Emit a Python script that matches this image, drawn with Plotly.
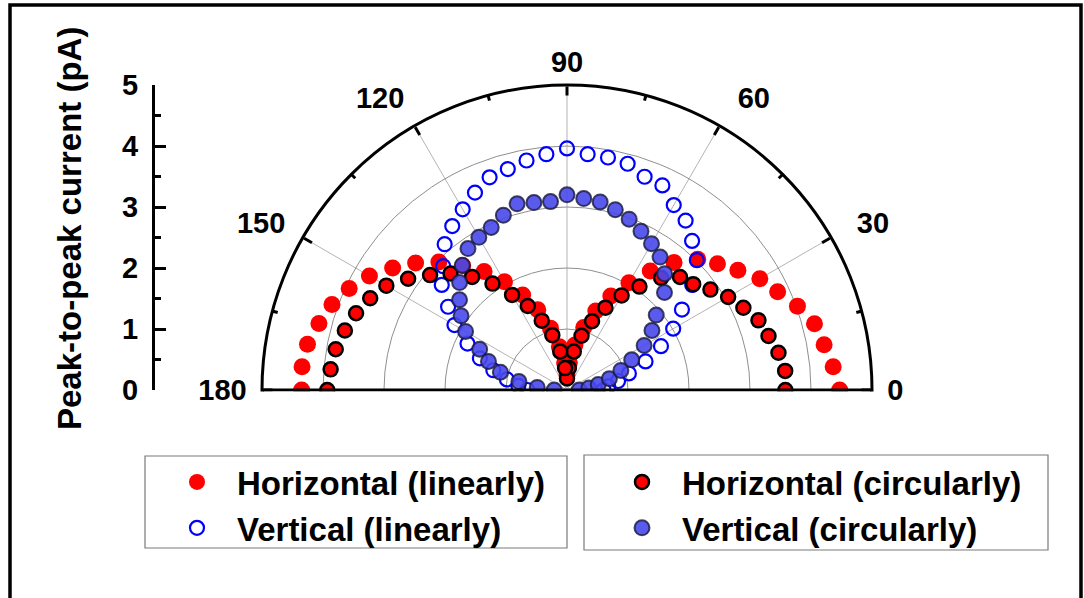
import plotly.graph_objects as go

# Polarization angle (degrees) and peak-to-peak current (pA) for each configuration
theta = list(range(0, 181, 5))

horizontal_linear = [4.47, 4.38, 4.28, 4.20, 4.02, 3.81, 3.65, 3.42, 3.22, 3.03,
                     2.73, 2.38, 2.03, 1.70, 1.38, 1.06, 0.75, 0.45, 0.25, 0.45,
                     0.72, 1.05, 1.40, 1.72, 2.05, 2.37, 2.66, 2.97, 3.24, 3.49,
                     3.74, 3.94, 4.10, 4.21, 4.32, 4.36, 4.35]

vertical_linear = [0.60, 0.68, 0.85, 1.05, 1.37, 1.70, 2.01, 2.30, 2.68, 3.01,
                   3.19, 3.39, 3.50, 3.70, 3.72, 3.84, 3.87, 3.88, 3.96, 3.88,
                   3.82, 3.75, 3.71, 3.57, 3.42, 3.28, 3.12, 2.87, 2.68, 2.38,
                   2.13, 1.80, 1.52, 1.25, 1.00, 0.80, 0.65]

horizontal_circular = [3.58, 3.59, 3.52, 3.42, 3.34, 3.19, 3.05, 2.87, 2.70, 2.62,
                       2.40, 2.07, 1.79, 1.49, 1.20, 0.92, 0.64, 0.36, 0.19, 0.36,
                       0.64, 0.93, 1.21, 1.52, 1.80, 2.13, 2.42, 2.70, 2.93, 3.18,
                       3.42, 3.56, 3.68, 3.77, 3.85, 3.89, 3.93]

vertical_circular = [0.20, 0.36, 0.52, 0.72, 0.94, 1.17, 1.46, 1.70, 1.91, 2.26,
                     2.49, 2.66, 2.77, 2.87, 2.98, 3.06, 3.13, 3.15, 3.20, 3.10,
                     3.12, 3.16, 3.05, 2.94, 2.89, 2.83, 2.67, 2.49, 2.30, 2.12,
                     1.92, 1.58, 1.37, 1.13, 0.80, 0.49, 0.21]

angle_major = [0, 30, 60, 90, 120, 150, 180]
angle_major_text = ["\u00a00", "", "", "90", "", "", "180\u00a0"]
angle_grid = [30, 60, 90, 120, 150]
angle_grid_text = ["\u00a030", "\u00a060", "", "120", "150"]
angle_minor = [15, 45, 75, 105, 135, 165]
radius_grid = [1, 2, 3, 4]
r_max = 5

W, H = 1084, 598
FONT = "Liberation Sans, Arial, Helvetica, sans-serif"


def fx(px):
    return px / W


def fy(py):
    return 1 - py / H


# half-disc geometry in pixels
cx, cy, R = 567, 390, 305
polar_dom = dict(x=[fx(cx - R), fx(cx + R)], y=[fy(cy), fy(cy - R)])

tick_font = dict(family=FONT, size=29, color="black", weight="bold")
text_font = dict(family=FONT, size=33, color="black", weight="bold")
no_radial = dict(range=[0, r_max], showgrid=False, showline=False,
                 showticklabels=False, ticks="")

fig = go.Figure()

# linear polarization: bottom polar layer, on top of the grid
fig.add_trace(go.Scatterpolar(
    r=horizontal_linear, theta=theta, mode="markers", name="Horizontal (linearly)",
    marker=dict(symbol="circle", size=17, color="#ff0000", line=dict(width=0)),
    subplot="polar", legend="legend", legendgroup="a", hoverinfo="skip"))
fig.add_trace(go.Scatterpolar(
    r=vertical_linear, theta=theta, mode="markers", name="Vertical (linearly)",
    marker=dict(symbol="circle-open", size=14, color="#0000ff", line=dict(width=2.2)),
    subplot="polar", legend="legend", legendgroup="b", hoverinfo="skip"))

# circular polarization: upper polar layers
fig.add_trace(go.Scatterpolar(
    r=horizontal_circular, theta=theta, mode="markers", name="Horizontal (circularly)",
    marker=dict(symbol="circle", size=14, color="#ff0000", line=dict(width=2.5, color="#000000")),
    subplot="polar2", legend="legend2", legendgroup="c", hoverinfo="skip"))
fig.add_trace(go.Scatterpolar(
    r=vertical_circular, theta=theta, mode="markers", name="Vertical (circularly)",
    marker=dict(symbol="circle", size=15, color="rgba(72,72,235,0.9)",
                line=dict(width=2, color="rgba(25,25,60,0.8)")),
    subplot="polar3", legend="legend2", legendgroup="d", hoverinfo="skip"))

# carrier for the linear current scale on the left
fig.add_trace(go.Scatter(x=[None], y=[None], showlegend=False, hoverinfo="skip"))

fig.update_layout(
    width=W, height=H,
    margin=dict(l=0, r=0, t=0, b=0, autoexpand=False),
    paper_bgcolor="white", plot_bgcolor="rgba(0,0,0,0)",
    showlegend=True,
    # grid circles, spokes and the oblique angle labels
    polar=dict(
        domain=polar_dom, sector=[0, 180], bgcolor="rgba(0,0,0,0)",
        radialaxis=dict(range=[0, r_max], tickvals=radius_grid, showgrid=True,
                        gridcolor="#8f8f8f", gridwidth=1, showline=False,
                        showticklabels=False, ticks=""),
        angularaxis=dict(tickmode="array", tickvals=angle_grid, ticktext=angle_grid_text,
                         showgrid=True, gridcolor="#b4b4b4", gridwidth=1, showline=False,
                         ticks="outside", ticklen=14, tickcolor="rgba(0,0,0,0)",
                         tickfont=tick_font, direction="counterclockwise", rotation=0),
    ),
    # minor ticks on the outer arc
    polar2=dict(
        domain=polar_dom, sector=[0, 180], bgcolor="rgba(0,0,0,0)",
        radialaxis=no_radial,
        angularaxis=dict(tickmode="array", tickvals=angle_minor, showticklabels=False,
                         showgrid=False, showline=False,
                         ticks="inside", ticklen=5, tickwidth=2.5, tickcolor="black",
                         direction="counterclockwise", rotation=0),
    ),
    # outer arc with major ticks and the 0 / 90 / 180 labels
    polar3=dict(
        domain=polar_dom, sector=[0, 180], bgcolor="rgba(0,0,0,0)",
        radialaxis=no_radial,
        angularaxis=dict(tickmode="array", tickvals=angle_major, ticktext=angle_major_text,
                         showgrid=False, showline=True, linecolor="black", linewidth=3,
                         ticks="inside", ticklen=9, tickwidth=2.5, tickcolor="black",
                         tickfont=tick_font, direction="counterclockwise", rotation=0),
    ),
    xaxis=dict(domain=[fx(155), 0.95], visible=False, range=[0, 1], fixedrange=True),
    yaxis=dict(domain=[fy(cy), fy(cy - R)], range=[0, r_max], anchor="x", side="left",
               showline=True, linecolor="black", linewidth=3, mirror=False,
               ticks="inside", ticklen=11, tickwidth=2.5, tickcolor="black",
               tickmode="linear", tick0=0, dtick=1,
               minor=dict(ticks="inside", ticklen=6, tickwidth=2.5, tickcolor="black",
                          dtick=0.5, tick0=0, showgrid=False),
               showgrid=False, zeroline=False, tickfont=tick_font,
               ticklabelstandoff=8, fixedrange=True, automargin=False),
    legend=dict(x=fx(157), y=fy(454), xanchor="left", yanchor="top",
                bgcolor="rgba(0,0,0,0)", borderwidth=0, itemwidth=70,
                tracegroupgap=0, itemsizing="trace", font=text_font),
    legend2=dict(x=fx(602), y=fy(454), xanchor="left", yanchor="top",
                 bgcolor="rgba(0,0,0,0)", borderwidth=0, itemwidth=70,
                 tracegroupgap=0, itemsizing="trace", font=text_font),
    annotations=[dict(text="Peak-to-peak current (pA)", textangle=-90,
                      x=fx(69), y=fy(229), xref="paper", yref="paper",
                      xanchor="center", yanchor="middle", showarrow=False,
                      font=text_font)],
    shapes=[
        # markers sitting on the 0-180 baseline are cut off below it
        dict(type="rect", xref="paper", yref="paper", layer="above",
             x0=fx(cx - R + 2), x1=fx(cx + R - 2), y0=fy(450), y1=fy(391.6),
             fillcolor="white", line=dict(width=0)),
        dict(type="rect", xref="paper", yref="paper", x0=fx(10), x1=fx(1081),
             y0=fy(625), y1=fy(5), line=dict(color="black", width=3.5)),
        dict(type="rect", xref="paper", yref="paper", x0=fx(145), x1=fx(567),
             y0=fy(548), y1=fy(456), line=dict(color="#7a7a7a", width=1.2)),
        dict(type="rect", xref="paper", yref="paper", x0=fx(584), x1=fx(1048),
             y0=fy(550), y1=fy(455), line=dict(color="#7a7a7a", width=1.2)),
    ],
)

fig.write_html("out.html")
